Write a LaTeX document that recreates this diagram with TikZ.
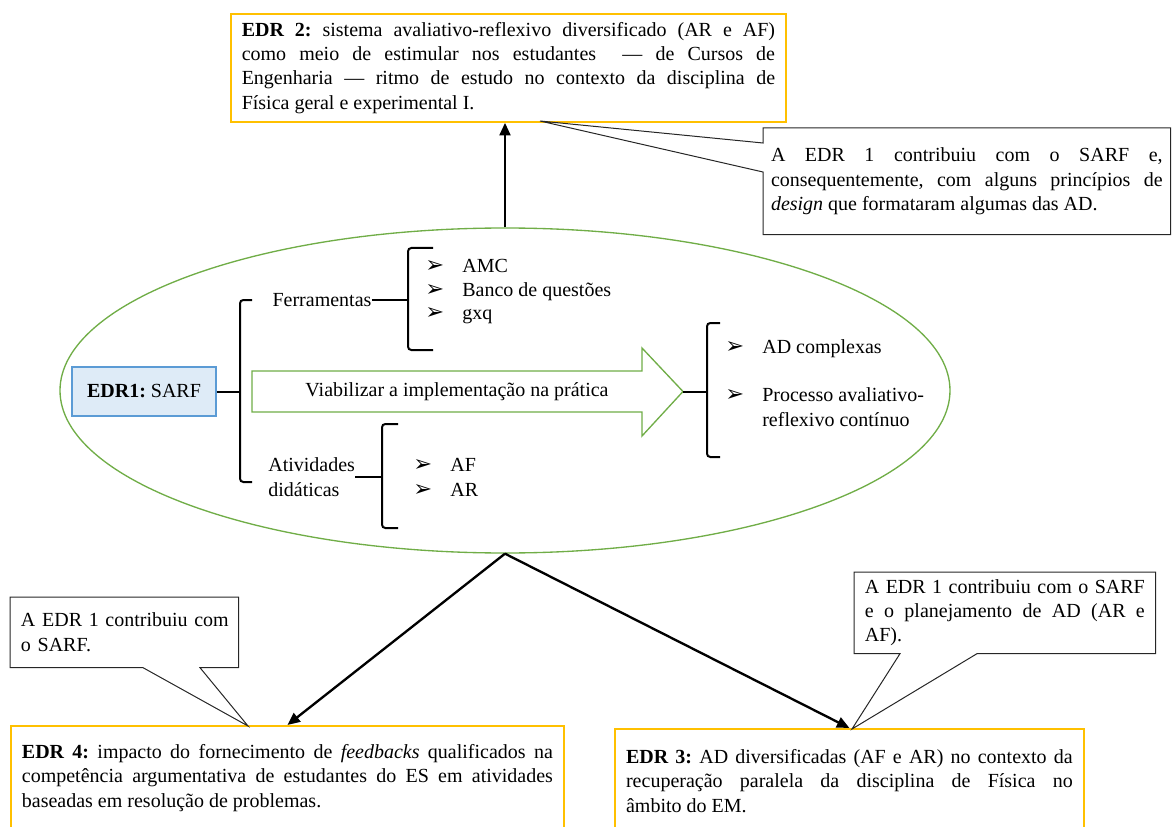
\documentclass[tikz,border=0pt]{standalone}
\usepackage{fontspec}
\setmainfont{Liberation Serif}
\newfontfamily\symb{DejaVu Sans}
\usetikzlibrary{arrows.meta}
\usetikzlibrary{shapes.geometric}
\definecolor{amarelo}{HTML}{FFC000}
\definecolor{verde}{HTML}{70AD47}
\definecolor{azulborda}{HTML}{5B9BD5}
\definecolor{azulfundo}{HTML}{DEEBF7}
\hyphenpenalty=10000
\exhyphenpenalty=10000
\frenchspacing
\newcommand{\seta}{{\symb\fontsize{13.5}{13.5}\selectfont\char"27A2}}
\newcommand{\marca}[1]{\makebox[22.2pt][l]{\seta}#1}
\tikzset{
  every node/.style={font=\fontsize{12}{14.6}\selectfont},
  edrbox/.style={draw=amarelo, line width=1.1pt, anchor=north west, align=justify, inner ysep=2pt},
  balao/.style={anchor=north west, align=justify, inner ysep=2pt},
  balaoborda/.style={draw=black!85, line width=0.6pt},
  chave/.style={line width=1.2pt, rounded corners=2pt},
  seta preta/.style={line width=1.4pt, -{Triangle[length=7.5pt,width=6.5pt]}},
  marcador/.style={anchor=west, inner sep=0pt, align=left}
}

\begin{document}
\begin{tikzpicture}[x=0.6pt,y=-0.6pt]
\useasboundingbox (0,0) rectangle (1174,827);
\clip (0,0) rectangle (1174,827);
\node (ell) at (505,390.5)[ellipse,draw=verde,line width=0.8pt,minimum width=534pt,minimum height=195pt,inner sep=0pt] {};

\node (edr2) at (230,13)[edrbox,text width=320pt,inner xsep=6.5pt,minimum height=64.8pt] {\textbf{EDR 2:} sistema avaliativo-reflexivo diversificado (AR e AF)\linebreak como meio de estimular nos estudantes~ — de Cursos de\linebreak Engenharia — ritmo de estudo no contexto da disciplina de\linebreak Física geral e experimental I.};
\node (edr4) at (10,725)[edrbox,text width=318.6pt,inner xsep=6.6pt,minimum height=62.4pt] {\textbf{EDR 4:} impacto do fornecimento de \textit{feedbacks} qualificados na\linebreak competência argumentativa de estudantes do ES em atividades\linebreak baseadas em resolução de problemas.};
\node (edr3) at (614,728)[edrbox,text width=268pt,inner xsep=6.7pt,minimum height=62.4pt] {\textbf{EDR 3:} AD diversificadas (AF e AR) no contexto da\linebreak recuperação paralela da disciplina de Física no\linebreak âmbito do EM.};

\node (cl2) at (763,128)[balao,text width=235pt,inner xsep=4.6pt,minimum height=63.6pt] {A EDR 1 contribuiu com o SARF e,\linebreak consequentemente, com alguns princípios de\linebreak \textit{design} que formataram algumas das AD.};
\node (cl3) at (854,572)[balao,text width=168pt,inner xsep=6.3pt,minimum height=48.6pt] {A EDR 1 contribuiu com o SARF\linebreak e o planejamento de AD (AR e\linebreak AF).};
\node (cl4) at (10,597)[balao,align=left,text width=130pt,inner xsep=3.4pt,minimum height=42pt] {\hspace*{3pt}A EDR 1 contribuiu com\\\hspace*{3pt}o SARF.};
\coordinate (tip2) at (540,121);
\coordinate (tip3) at (852,729);
\coordinate (tip4) at (248,726);
\draw[balaoborda] (cl2.north west) -- (cl2.north east) -- (cl2.south east) -- (cl2.south west) -- ([yshift=-26.4pt]cl2.north west) -- (tip2) -- ([yshift=-9pt]cl2.north west) -- cycle;
\draw[balaoborda] (cl3.north west) -- (cl3.north east) -- (cl3.south east) -- ([xshift=73.8pt]cl3.south west) -- (tip3) -- ([xshift=27.6pt]cl3.south west) -- (cl3.south west) -- cycle;
\draw[balaoborda] (cl4.north west) -- (cl4.north east) -- (cl4.south east) -- ([xshift=114pt]cl4.south west) -- (tip4) -- ([xshift=79.8pt]cl4.south west) -- (cl4.south west) -- cycle;

\draw[seta preta] (ell.north) -- (ell.north |- edr2.south);
\draw[seta preta] (ell.south) -- (edr4.north);
\draw[seta preta] (ell.south) -- (edr3.north);

\node (sarf) at (144,391.5)[draw=azulborda,fill=azulfundo,line width=0.8pt,minimum width=86.4pt,minimum height=29.4pt] {\textbf{EDR1:} SARF};
\coordinate (c1) at (240,391.5);
\draw[chave] (252,300) -| (240,482) -- (252,482);
\draw[chave] (sarf) -- (c1);

\node (ferr) at (322,300)[inner sep=0pt] {Ferramentas};
\coordinate (c2) at (408,300);
\draw[chave] (433,248) -| (408,350) -- (433,350);
\draw[chave] (ferr) -- (c2);
\node (amc) at (425,266)[marcador] {\marca{AMC}};
\node (banco) at (425,292)[marcador] {\marca{Banco de questões}};
\node (gxq) at (425,316)[marcador] {\marca{gxq}};

\node (ativ) at (268,477)[marcador] {Atividades\\didáticas};
\coordinate (c3) at (382,477);
\draw[chave] (398,424) -| (382,528) -- (398,528);
\draw[chave] (ativ) -- (c3);
\node (af) at (413,465)[marcador] {\marca{AF}};
\node (ar) at (413,490)[marcador] {\marca{AR}};

\draw[verde,line width=0.8pt,fill=white] (252,371) -- (642,371) -- (642,348) -- (683,391.5) -- (642,436) -- (642,412) -- (252,412) -- cycle;
\node (viab) at (457,391.5) {Viabilizar a implementação na prática};
\coordinate (ponta) at (683,391.5);
\coordinate (c4) at (707,391.5);
\draw[chave] (720,323) -| (707,457) -- (720,457);
\draw[chave] (ponta) -- (c4);
\node (adc) at (725,349)[marcador] {\marca{AD complexas}};
\node (proc) at (725,407)[marcador] {\marca{Processo avaliativo-}\\\hspace*{22.2pt}reflexivo contínuo};
\end{tikzpicture}
\end{document}
